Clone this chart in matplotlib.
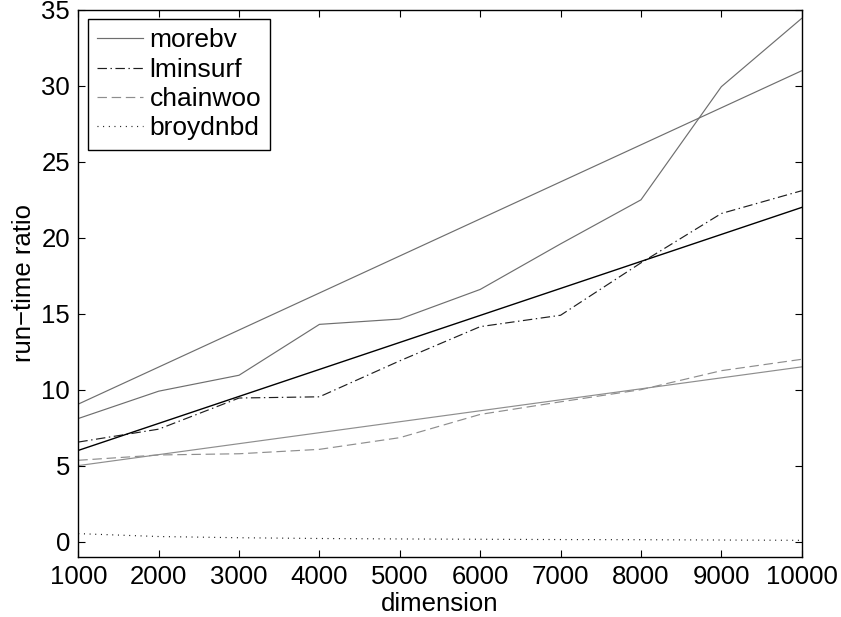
import matplotlib
matplotlib.use("Agg")
import matplotlib.pyplot as plt
import numpy as np

plt.rcParams['font.family'] = ['Liberation Sans', 'DejaVu Sans']

dimension = [1000, 2000, 3000, 4000, 5000, 6000, 7000, 8000, 9000, 10000]

morebv = [8.1, 9.9, 10.95, 14.3, 14.65, 16.6, 19.6, 22.5, 29.95, 34.45]
lminsurf = [6.55, 7.4, 9.45, 9.53, 11.9, 14.15, 14.9, 18.35, 21.6, 23.1]
chainwoo = [5.35, 5.7, 5.78, 6.07, 6.84, 8.37, 9.2, 10.0, 11.25, 12.0]
broydnbd = [0.52, 0.33, 0.25, 0.2, 0.17, 0.15, 0.13, 0.12, 0.1, 0.08]

# linear trend lines (end-point values)
morebv_fit = [9.05, 31.0]
lminsurf_fit = [6.0, 22.0]
chainwoo_fit = [5.0, 11.5]
fit_x = [dimension[0], dimension[-1]]

xticks = [1000, 2000, 3000, 4000, 5000, 6000, 7000, 8000, 9000, 10000]
yticks = [0, 5, 10, 15, 20, 25, 30, 35]

fig = plt.figure(figsize=(8.41, 6.17), dpi=100)
ax = fig.add_axes([0.0931, 0.0977, 0.8602, 0.8861])

c_more = '#6e6e6e'
c_lmin = '#1e1e1e'
c_chain = '#8e8e8e'

ax.plot(dimension, morebv, '-', color=c_more, lw=0.85, label='morebv')
ax.plot(dimension, lminsurf, color=c_lmin, lw=0.85, label='lminsurf',
        dashes=[8, 3, 1.2, 3])
ax.plot(dimension, chainwoo, color=c_chain, lw=0.85, label='chainwoo',
        dashes=[8, 4])
ax.plot(dimension, broydnbd, color='black', lw=0.85, label='broydnbd',
        dashes=[0.8, 4])

ax.plot(fit_x, morebv_fit, '-', color=c_more, lw=0.85)
ax.plot(fit_x, lminsurf_fit, '-', color='black', lw=1.0)
ax.plot(fit_x, chainwoo_fit, '-', color=c_chain, lw=0.85)

ax.set_xlim(1000, 10000)
ax.set_ylim(-1, 35)
ax.set_xticks(xticks)
ax.set_yticks(yticks)
ax.tick_params(direction='in', length=5, width=0.8, labelsize=18.5,
               top=True, right=True, pad=6, colors='black')
for s in ax.spines.values():
    s.set_linewidth(1.0)

ax.set_xlabel('dimension', fontsize=18.5, labelpad=2)
ax.set_ylabel('run\u2212time ratio', fontsize=18.5, labelpad=4)

leg = ax.legend(loc='upper left', fontsize=19, frameon=True, fancybox=False,
                framealpha=1, edgecolor='black', borderaxespad=0.35,
                handlelength=1.75, handletextpad=0.25, labelspacing=0.2,
                borderpad=0.35)
leg.get_frame().set_linewidth(1.0)

fig.savefig('out.png', dpi=100)
